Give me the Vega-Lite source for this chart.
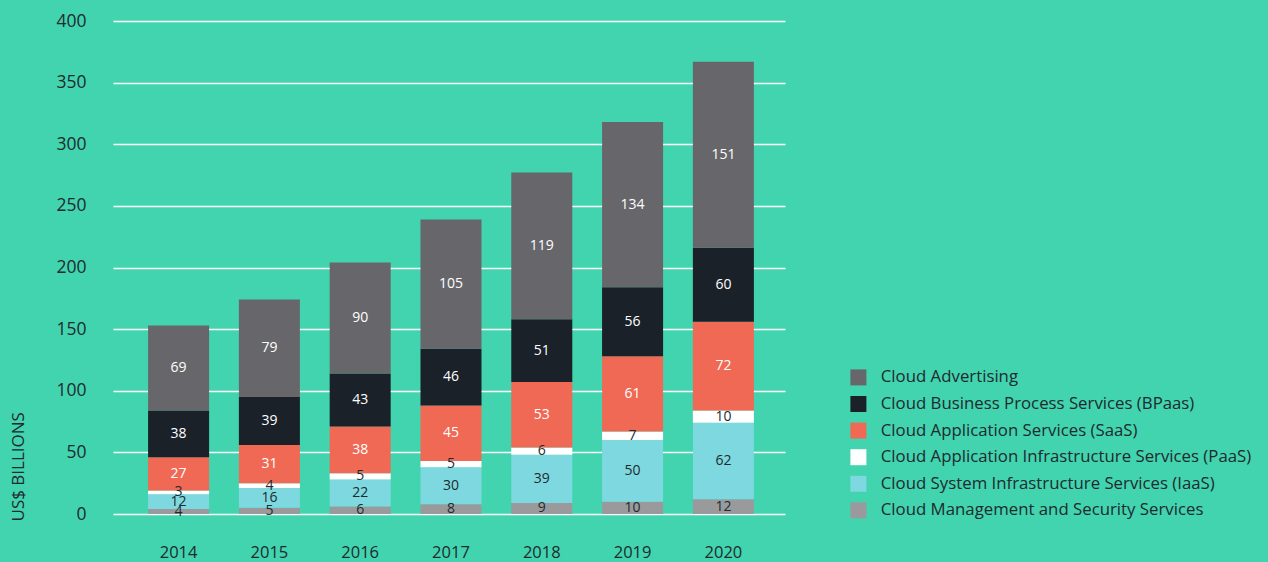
{
  "$schema": "https://vega.github.io/schema/vega-lite/v6.json",
  "autosize": "none",
  "width": 672,
  "height": 493,
  "padding": {"left": 113, "top": 21, "right": 483, "bottom": 48},
  "background": "#41d4ae",
  "config": {
    "view": {"stroke": null},
    "font": "Open Sans",
    "axis": {"labelColor": "#1f2a2e", "titleColor": "#1f2a2e"}
  },
  "data": {
    "values": [
      {"year": "2014", "series": "Cloud Management and Security Services", "k": 1, "value": 4},
      {"year": "2014", "series": "Cloud System Infrastructure Services (IaaS)", "k": 2, "value": 12},
      {"year": "2014", "series": "Cloud Application Infrastructure Services (PaaS)", "k": 3, "value": 3},
      {"year": "2014", "series": "Cloud Application Services (SaaS)", "k": 4, "value": 27},
      {"year": "2014", "series": "Cloud Business Process Services (BPaas)", "k": 5, "value": 38},
      {"year": "2014", "series": "Cloud Advertising", "k": 6, "value": 69},
      {"year": "2015", "series": "Cloud Management and Security Services", "k": 1, "value": 5},
      {"year": "2015", "series": "Cloud System Infrastructure Services (IaaS)", "k": 2, "value": 16},
      {"year": "2015", "series": "Cloud Application Infrastructure Services (PaaS)", "k": 3, "value": 4},
      {"year": "2015", "series": "Cloud Application Services (SaaS)", "k": 4, "value": 31},
      {"year": "2015", "series": "Cloud Business Process Services (BPaas)", "k": 5, "value": 39},
      {"year": "2015", "series": "Cloud Advertising", "k": 6, "value": 79},
      {"year": "2016", "series": "Cloud Management and Security Services", "k": 1, "value": 6},
      {"year": "2016", "series": "Cloud System Infrastructure Services (IaaS)", "k": 2, "value": 22},
      {"year": "2016", "series": "Cloud Application Infrastructure Services (PaaS)", "k": 3, "value": 5},
      {"year": "2016", "series": "Cloud Application Services (SaaS)", "k": 4, "value": 38},
      {"year": "2016", "series": "Cloud Business Process Services (BPaas)", "k": 5, "value": 43},
      {"year": "2016", "series": "Cloud Advertising", "k": 6, "value": 90},
      {"year": "2017", "series": "Cloud Management and Security Services", "k": 1, "value": 8},
      {"year": "2017", "series": "Cloud System Infrastructure Services (IaaS)", "k": 2, "value": 30},
      {"year": "2017", "series": "Cloud Application Infrastructure Services (PaaS)", "k": 3, "value": 5},
      {"year": "2017", "series": "Cloud Application Services (SaaS)", "k": 4, "value": 45},
      {"year": "2017", "series": "Cloud Business Process Services (BPaas)", "k": 5, "value": 46},
      {"year": "2017", "series": "Cloud Advertising", "k": 6, "value": 105},
      {"year": "2018", "series": "Cloud Management and Security Services", "k": 1, "value": 9},
      {"year": "2018", "series": "Cloud System Infrastructure Services (IaaS)", "k": 2, "value": 39},
      {"year": "2018", "series": "Cloud Application Infrastructure Services (PaaS)", "k": 3, "value": 6},
      {"year": "2018", "series": "Cloud Application Services (SaaS)", "k": 4, "value": 53},
      {"year": "2018", "series": "Cloud Business Process Services (BPaas)", "k": 5, "value": 51},
      {"year": "2018", "series": "Cloud Advertising", "k": 6, "value": 119},
      {"year": "2019", "series": "Cloud Management and Security Services", "k": 1, "value": 10},
      {"year": "2019", "series": "Cloud System Infrastructure Services (IaaS)", "k": 2, "value": 50},
      {"year": "2019", "series": "Cloud Application Infrastructure Services (PaaS)", "k": 3, "value": 7},
      {"year": "2019", "series": "Cloud Application Services (SaaS)", "k": 4, "value": 61},
      {"year": "2019", "series": "Cloud Business Process Services (BPaas)", "k": 5, "value": 56},
      {"year": "2019", "series": "Cloud Advertising", "k": 6, "value": 134},
      {"year": "2020", "series": "Cloud Management and Security Services", "k": 1, "value": 12},
      {"year": "2020", "series": "Cloud System Infrastructure Services (IaaS)", "k": 2, "value": 62},
      {"year": "2020", "series": "Cloud Application Infrastructure Services (PaaS)", "k": 3, "value": 10},
      {"year": "2020", "series": "Cloud Application Services (SaaS)", "k": 4, "value": 72},
      {"year": "2020", "series": "Cloud Business Process Services (BPaas)", "k": 5, "value": 60},
      {"year": "2020", "series": "Cloud Advertising", "k": 6, "value": 151}
    ]
  },
  "transform": [
    {"stack": "value", "groupby": ["year"], "sort": [{"field": "k", "order": "ascending"}], "as": ["y0", "y1"]},
    {"calculate": "(datum.y0 + datum.y1) / 2", "as": "ymid"}
  ],
  "encoding": {
    "x": {
      "field": "year", "type": "ordinal", "title": null,
      "scale": {"paddingInner": 0.328, "paddingOuter": 0.3645, "align": 0.53},
      "axis": {"labelAngle": 0, "ticks": false, "domain": false, "labelPadding": 38, "labelFontSize": 16.5, "labelBaseline": "middle", "labelColor": "#1f2a2e"}
    }
  },
  "layer": [
    {
      "mark": {"type": "bar"},
      "encoding": {
        "y": {
          "field": "y0", "type": "quantitative",
          "scale": {"domain": [0, 400]},
          "title": "US$ BILLIONS",
          "axis": {
            "values": [0, 50, 100, 150, 200, 250, 300, 350, 400],
            "grid": true, "gridColor": "#ffffff", "gridWidth": 1.5, "gridOpacity": 1,
            "ticks": false, "domain": false,
            "labelPadding": 27, "labelFontSize": 17.5,
            "titleFontSize": 17, "titleFontWeight": "normal",
            "titleAngle": -90, "titleAnchor": "start", "titleAlign": "left",
            "titleX": -95, "titleY": 500, "titleBaseline": "middle"
          }
        },
        "y2": {"field": "y1"},
        "color": {
          "field": "series", "type": "nominal",
          "scale": {
            "domain": [
              "Cloud Advertising",
              "Cloud Business Process Services (BPaas)",
              "Cloud Application Services (SaaS)",
              "Cloud Application Infrastructure Services (PaaS)",
              "Cloud System Infrastructure Services (IaaS)",
              "Cloud Management and Security Services"
            ],
            "range": ["#67676b", "#1b2129", "#f06954", "#ffffff", "#7ed8df", "#9a9a9c"]
          },
          "legend": {
            "title": null, "orient": "none", "legendX": 737, "legendY": 348,
            "symbolType": "square", "symbolSize": 256, "symbolStrokeWidth": 0,
            "labelFontSize": 16.8, "labelColor": "#1f2a2e", "labelOffset": 14,
            "rowPadding": 8.6, "labelLimit": 500
          }
        }
      }
    },
    {
      "mark": {"type": "text", "fontSize": 14, "baseline": "middle", "align": "center"},
      "encoding": {
        "y": {"field": "ymid", "type": "quantitative"},
        "text": {"field": "value", "type": "quantitative"},
        "color": {
          "condition": {"test": "datum.k >= 4", "value": "#ffffff"},
          "value": "#1f2a2e"
        }
      }
    }
  ]
}
